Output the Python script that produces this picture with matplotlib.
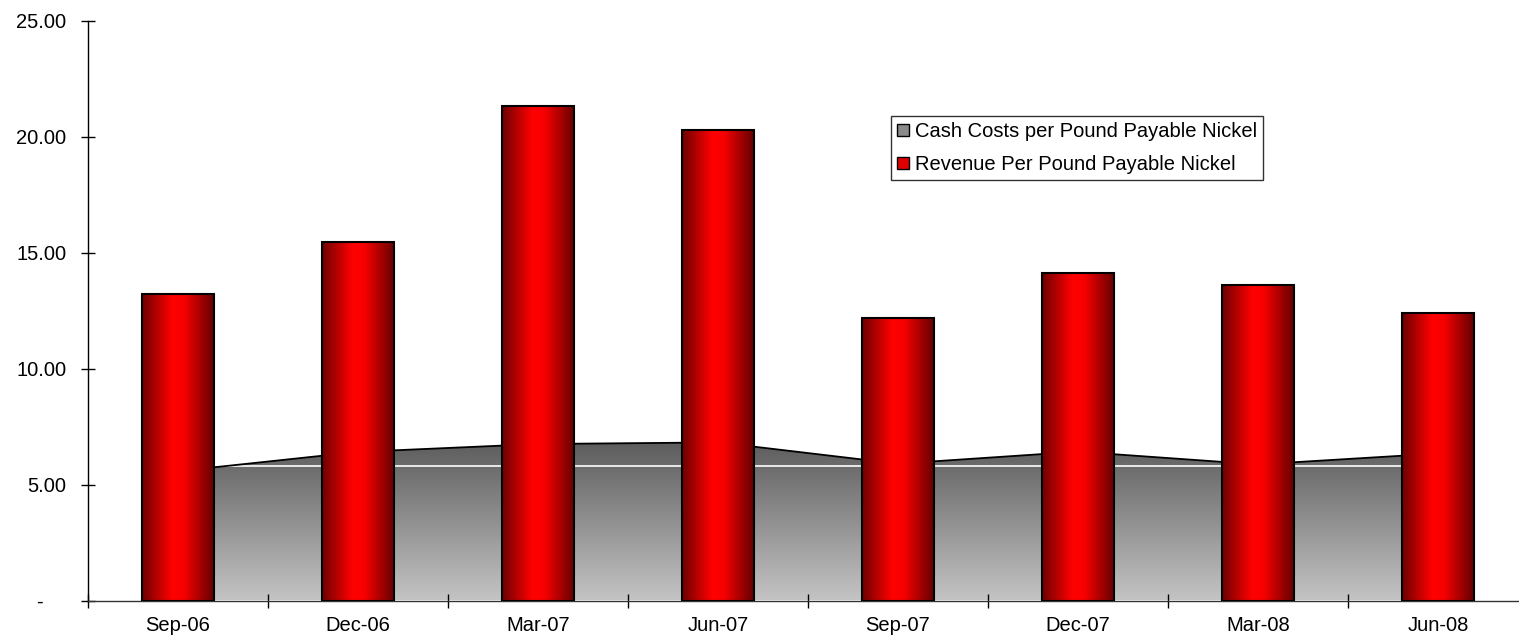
import matplotlib
matplotlib.use('Agg')
import matplotlib.pyplot as plt
import numpy as np
from matplotlib.colors import LinearSegmentedColormap
from matplotlib.patches import Patch, Polygon

quarters = ['Sep-06', 'Dec-06', 'Mar-07', 'Jun-07', 'Sep-07', 'Dec-07', 'Mar-08', 'Jun-08']
revenue = [13.21, 15.48, 21.32, 20.28, 12.17, 14.12, 13.60, 12.39]
cash_costs = [5.58, 6.41, 6.75, 6.82, 5.90, 6.42, 5.87, 6.34]
y_ticks = [0, 5, 10, 15, 20, 25]
y_labels = ['-    ', '5.00', '10.00', '15.00', '20.00', '25.00']

plt.rcParams['font.family'] = ['Liberation Sans', 'DejaVu Sans']
fs = 14.5

fig = plt.figure(figsize=(15.19, 6.41), dpi=100)
ax = fig.add_axes([88 / 1519, 40.5 / 641, 1440 / 1519, 579.5 / 641])

x = np.arange(len(quarters))

# area series with vertical grey gradient
top = max(cash_costs)
verts = [(x[0], 0)] + list(zip(x, cash_costs)) + [(x[-1], 0)]
poly = Polygon(verts, closed=True, facecolor='none', edgecolor='none')
ax.add_patch(poly)
grey = LinearSegmentedColormap.from_list('grey', ['#c4c4c4', '#5c5c5c'])
grad = np.linspace(0, 1, 256).reshape(-1, 1)
im = ax.imshow(grad, cmap=grey, origin='lower', aspect='auto',
               extent=[x[0], x[-1], 0, top], zorder=1)
im.set_clip_path(poly)
wl, = ax.plot([x[0], x[-1]], [5.82, 5.82], color='white', lw=1.2, zorder=1.5)
wl.set_clip_path(poly)
ax.plot(x, cash_costs, color='black', lw=1.3, zorder=2)

# bars with horizontal red gradient
reds = LinearSegmentedColormap.from_list(
    'reds', [(0, '#6e0000'), (0.42, '#ff0000'), (0.58, '#f80000'), (1, '#640000')])
hgrad = np.linspace(0, 1, 256).reshape(1, -1)
bars = ax.bar(x, revenue, width=0.4, facecolor='none', edgecolor='black',
              linewidth=1.5, zorder=4)
for b in bars:
    ax.imshow(hgrad, cmap=reds, aspect='auto', zorder=3,
              extent=[b.get_x(), b.get_x() + b.get_width(), 0, b.get_height()])
ax.set_xlim(-0.5, len(quarters) - 0.5)
ax.set_ylim(0, 25)

ax.spines['top'].set_visible(False)
ax.spines['right'].set_visible(False)
ax.spines['left'].set_linewidth(1.0)
ax.spines['bottom'].set_linewidth(1.0)
ax.spines['bottom'].set_color('#333333')

ax.set_yticks(y_ticks)
ax.set_yticklabels(y_labels)
ax.set_xticks(x)
ax.set_xticklabels(quarters)
ax.set_xticks(np.arange(-0.5, len(quarters)), minor=True)
ax.tick_params(axis='x', which='major', length=0, pad=11, labelsize=fs)
ax.tick_params(axis='x', which='minor', direction='inout', length=9.4, width=1.0)
ax.tick_params(axis='y', direction='inout', length=9.4, width=1.0, pad=11, labelsize=fs)

handles = [Patch(facecolor='#8a8a8a', edgecolor='black', label='Cash Costs per Pound Payable Nickel'),
           Patch(facecolor='#e00000', edgecolor='black', label='Revenue Per Pound Payable Nickel')]
leg = fig.legend(handles=handles, loc='upper left', bbox_to_anchor=(891 / 1519, 1 - 116 / 641),
                 fontsize=fs, frameon=True, fancybox=False, shadow=False,
                 handlelength=0.6, handleheight=0.6, handletextpad=0.3,
                 borderpad=0.3, labelspacing=0.7, borderaxespad=0)
leg.get_frame().set_edgecolor('black')
leg.get_frame().set_linewidth(1.0)

fig.savefig('out.png', dpi=100)
